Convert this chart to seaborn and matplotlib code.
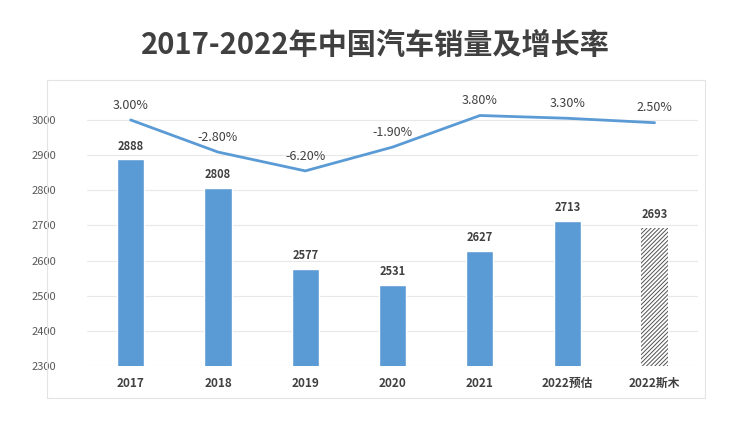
import matplotlib
matplotlib.use("Agg")
import matplotlib.pyplot as plt
import seaborn as sns
import pandas as pd
from matplotlib.patches import Rectangle

categories = ["2017", "2018", "2019", "2020", "2021", "2022预估", "2022斯木"]
sales = [2888, 2808, 2577, 2531, 2627, 2713, 2693]
growth = [3.00, -2.80, -6.20, -1.90, 3.80, 3.30, 2.50]
growth_labels = ["3.00%", "-2.80%", "-6.20%", "-1.90%", "3.80%", "3.30%", "2.50%"]
y_ticks = [2300, 2400, 2500, 2600, 2700, 2800, 2900, 3000]

sns.set_theme(style="white")
plt.rcParams["font.family"] = ["Noto Sans CJK SC", "DejaVu Sans"]
plt.rcParams["hatch.linewidth"] = 0.7

df = pd.DataFrame({"cat": categories, "sales": sales, "growth": growth})

fig = plt.figure(figsize=(7.5, 4.21), dpi=100)
ax = fig.add_axes([0.116, 0.131, 0.815, 0.667])

blue = "#5b9bd5"
sns.barplot(data=df, x="cat", y="sales", ax=ax, color=blue, width=0.31,
            saturation=1, zorder=3)
# hatched last bar
last = ax.patches[-1]
last.set_facecolor("white")
last.set_edgecolor("#505050")
last.set_hatch("////////")
last.set_linewidth(0)

ax.set_ylim(2300, 3100)
ax.set_xlim(-0.5, 6.5)
ax.set_yticks(y_ticks)
ax.yaxis.grid(True, color="#e8e8e8", linewidth=0.8, zorder=0)
ax.set_axisbelow(True)
for s in ax.spines.values():
    s.set_visible(False)
ax.set_xlabel("")
ax.set_ylabel("")
ax.tick_params(axis="y", labelsize=8, colors="#595959", length=0, pad=22)
ax.tick_params(axis="x", labelsize=8.5, colors="#404040", length=0, pad=8)
for lab in ax.get_xticklabels():
    lab.set_fontweight("bold")

for i, v in enumerate(sales):
    ax.annotate(str(v), (i, v), xytext=(0, 5), textcoords="offset points",
                ha="center", va="bottom", fontsize=8, fontweight="bold",
                color="#404040")

ax2 = ax.twinx()
sns.lineplot(x=list(range(len(categories))), y=growth, ax=ax2, color=blue,
             linewidth=2, zorder=4)
ax2.set_ylim(-41.4, 9.3)
ax2.set_yticks([])
for s in ax2.spines.values():
    s.set_visible(False)
for i, (g, t) in enumerate(zip(growth, growth_labels)):
    ax2.annotate(t, (i, g), xytext=(0, 6), textcoords="offset points",
                 ha="center", va="bottom", fontsize=9, color="#404040")

fig.patches.append(Rectangle((47 / 750, 1 - 398 / 421), 658 / 750, 318 / 421,
                             transform=fig.transFigure, fill=False,
                             edgecolor="#e3e3e3", linewidth=0.8))

fig.text(0.5, 1 - 45 / 421, "2017-2022年中国汽车销量及增长率", ha="center",
         va="center", fontsize=21, fontweight="bold", color="#404040")

fig.savefig("out.png", dpi=100)
